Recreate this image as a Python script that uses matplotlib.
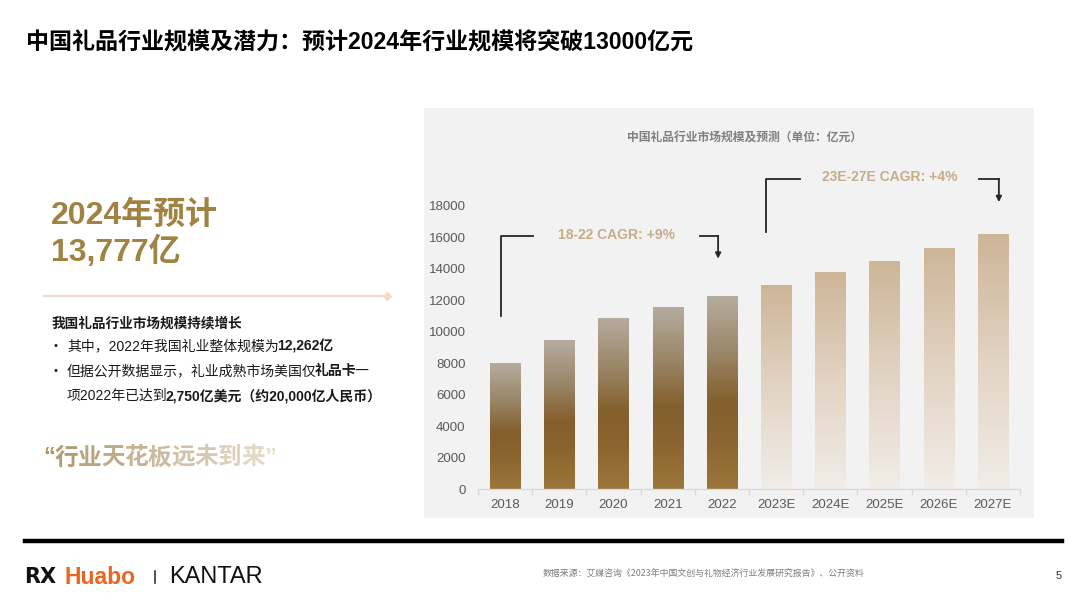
import matplotlib
matplotlib.use("Agg")
import matplotlib.pyplot as plt
import numpy as np
from matplotlib.colors import LinearSegmentedColormap
from matplotlib.patches import Rectangle
from matplotlib.lines import Line2D

# ---------------- data ----------------
years = ["2018", "2019", "2020", "2021", "2022", "2023E", "2024E", "2025E", "2026E", "2027E"]
values = [8000, 9450, 10900, 11580, 12262, 13000, 13777, 14470, 15320, 16190]
is_forecast = [False, False, False, False, False, True, True, True, True, True]
yticks = [0, 2000, 4000, 6000, 8000, 10000, 12000, 14000, 16000, 18000]
cagr_hist = "18-22 CAGR: +9%"
cagr_fore = "23E-27E CAGR: +4%"

W, H = 1087, 606
FAM = ["Liberation Sans", "Noto Sans CJK SC", "DejaVu Sans"]
CJK = ["Noto Sans CJK SC", "DejaVu Sans"]
plt.rcParams["font.family"] = FAM

fig = plt.figure(figsize=(W / 100, H / 100), dpi=100)
fig.patch.set_facecolor("white")

def fx(px):
    return px / W

def fy(py):
    return 1 - py / H

# chart panel background
panel = Rectangle((fx(424), fy(518)), fx(1034) - fx(424), fy(108) - fy(518),
                  transform=fig.transFigure, facecolor="#f2f2f2", edgecolor="none", zorder=-10)
fig.patches.append(panel)

ax = fig.add_axes([fx(478), fy(489), fx(1020) - fx(478), fy(206) - fy(489)])
ax.set_zorder(5)
ax.set_facecolor("none")
ax.set_xlim(-0.5, len(years) - 0.5)
ax.set_ylim(0, 18000)

hist_cmap = LinearSegmentedColormap.from_list(
    "hist", [(0.0, "#9c773b"), (0.25, "#8a652f"), (0.45, "#835f2c"), (0.7, "#9a8566"), (1.0, "#b6ac9f")])
fore_cmap = LinearSegmentedColormap.from_list(
    "fore", [(0.0, "#f1ede8"), (0.5, "#e2d3c3"), (1.0, "#cdb597")])

x = np.arange(len(years))
bars = ax.bar(x, values, width=0.56, color="none", edgecolor="none")
grad = np.linspace(0, 1, 256).reshape(-1, 1)
for b, v, fc in zip(bars, values, is_forecast):
    cmap = fore_cmap if fc else hist_cmap
    im = ax.imshow(grad, cmap=cmap, origin="lower", aspect="auto",
                   extent=(b.get_x(), b.get_x() + b.get_width(), 0, v), zorder=2)
    im.set_clip_path(b)
ax.set_xlim(-0.5, len(years) - 0.5)
ax.set_ylim(0, 18000)

for s in ["top", "right", "left"]:
    ax.spines[s].set_visible(False)
ax.spines["bottom"].set_color("#d9d9d9")
ax.spines["bottom"].set_linewidth(1.0)
ax.set_yticks(yticks)
ax.set_yticklabels([str(t) for t in yticks])
ax.set_xticks(x)
ax.set_xticklabels(years)
ax.set_xticks(np.arange(-0.5, len(years), 1.0), minor=True)
ax.tick_params(axis="y", length=0, pad=9, labelsize=9.5, labelcolor="#595959")
ax.tick_params(axis="x", which="major", length=0, pad=7, labelsize=9.5, labelcolor="#595959")
ax.tick_params(axis="x", which="minor", length=4, width=1, color="#d9d9d9")

# CAGR annotations
lc = "#262626"
tc = "#c4ad8a"
ax.plot([-0.07, -0.07, 0.52], [11000, 16090, 16090], color=lc, lw=1.3, clip_on=False)
ax.plot([3.6, 3.93], [16090, 16090], color=lc, lw=1.3, clip_on=False)
ax.annotate("", xy=(3.93, 14650), xytext=(3.93, 16110),
            arrowprops=dict(arrowstyle="-|>", color=lc, lw=1.3, mutation_scale=8, shrinkA=0, shrinkB=0),
            annotation_clip=False)
ax.text(2.05, 16150, cagr_hist, ha="center", va="center", fontsize=10, weight="bold", color=tc)

ax.plot([4.82, 4.82, 5.44], [16345, 19716, 19716], color=lc, lw=1.3, clip_on=False)
ax.plot([8.75, 9.11], [19716, 19716], color=lc, lw=1.3, clip_on=False)
ax.annotate("", xy=(9.11, 18250), xytext=(9.11, 19736),
            arrowprops=dict(arrowstyle="-|>", color=lc, lw=1.3, mutation_scale=8, shrinkA=0, shrinkB=0),
            annotation_clip=False)
ax.text(7.1, 19840, cagr_fore, ha="center", va="center", fontsize=10, weight="bold", color=tc)

# chart title
fig.text(fx(745), fy(138), "中国礼品行业市场规模及预测（单位：亿元）", ha="center", va="center",
         fontsize=8.5, weight="bold", color="#7f7f7f", family=CJK)

# page title
fig.text(fx(26), fy(43), "中国礼品行业规模及潜力：预计2024年行业规模将突破13000亿元", ha="left", va="center",
         fontsize=16.6, weight="bold", color="black", family=FAM)

gold = "#a08343"
fig.text(fx(51), fy(215), "2024年预计", ha="left", va="center", fontsize=23, weight="bold", color=gold, family=FAM)
fig.text(fx(51), fy(252), "13,777亿", ha="left", va="center", fontsize=23, weight="bold", color=gold, family=FAM)

# divider with diamond
fig.lines.append(Line2D([fx(44), fx(386)], [fy(296), fy(296)], transform=fig.transFigure,
                        color="#f3dcc6", lw=1.6))
fig.lines.append(Line2D([fx(387)], [fy(296)], transform=fig.transFigure, marker="D",
                        markersize=4, color="#f3dcc6", lw=0))

renderer = fig.canvas.get_renderer()

def runs(x_px, y_px, parts, size, family=FAM, adjust=0.0):
    xcur = x_px
    for txt, wt, col in parts:
        t = fig.text(fx(xcur), fy(y_px), txt, ha="left", va="center", fontsize=size,
                     weight=wt, color=col, family=family)
        bb = t.get_window_extent(renderer)
        xcur += bb.width + adjust
    return xcur

body = "#1a1a1a"
fig.text(fx(52), fy(323), "我国礼品行业市场规模持续增长", ha="left", va="center", fontsize=9.8,
         weight="bold", color=body, family=FAM)
fig.text(fx(54), fy(346), "•", ha="left", va="center", fontsize=8, color=body)
fig.text(fx(54), fy(371), "•", ha="left", va="center", fontsize=8, color=body)
runs(67, 346, [("其中，2022年我国礼业整体规模为", "normal", body), ("12,262亿", "bold", body)], 10, adjust=-2)
runs(67, 371, [("但据公开数据显示，礼业成熟市场美国仅", "normal", body), ("礼品卡", "bold", body),
               ("一", "normal", body)], 10, adjust=-2)
runs(67, 396, [("项2022年已达到", "normal", body), ("2,750亿美元（约20,000亿人民币）", "bold", body)], 10, adjust=-2)

# gradient quote
quote = "“行业天花板远未到来”"
c0 = np.array([0xae, 0x95, 0x68]) / 255
c1 = np.array([0xe8, 0xdf, 0xd0]) / 255
n = len(quote)
parts = []
for i, ch in enumerate(quote):
    f = i / (n - 1)
    parts.append((ch, "bold", tuple(c0 * (1 - f) + c1 * f)))
runs(43, 458, parts, 17, family=FAM, adjust=-0.3)

# footer
fig.lines.append(Line2D([fx(25), fx(1062)], [fy(541), fy(541)], transform=fig.transFigure,
                        color="black", lw=3.2))
runs(24, 577, [("RX", "bold", "#111111")], 15, family=["DejaVu Sans"])
runs(64, 577, [("Huabo", "bold", "#e8661f")], 16.5, family=["Liberation Sans", "DejaVu Sans"])
fig.lines.append(Line2D([fx(155), fx(155)], [fy(571), fy(583)], transform=fig.transFigure,
                        color="#333333", lw=1.2))
runs(169, 577, [("KANTAR", "normal", "#111111")], 17, family=["Liberation Sans", "DejaVu Sans"])

fig.text(fx(543), fy(574), "数据来源：艾媒咨询《2023年中国文创与礼物经济行业发展研究报告》、公开资料",
         ha="left", va="center", fontsize=6.4, color="#7f7f7f", family=CJK)
fig.text(fx(1059), fy(576), "5", ha="center", va="center", fontsize=8, color="#333333")

fig.savefig("out.png", dpi=100, facecolor="white")
